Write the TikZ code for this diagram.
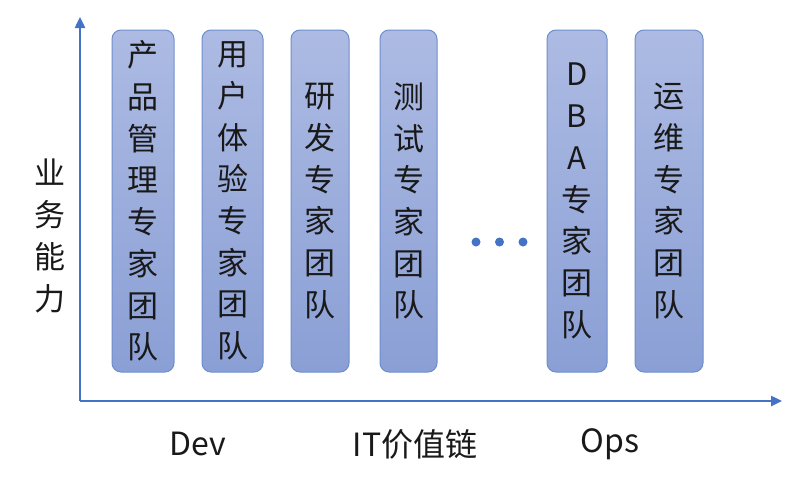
\documentclass[tikz,border=0pt]{standalone}
\usepackage{fontspec}
\setmainfont{Noto Sans CJK SC}
\usetikzlibrary{arrows.meta,shadings}
\definecolor{boxtop}{RGB}{173,187,227}
\definecolor{boxbot}{RGB}{138,159,213}
\definecolor{boxborder}{RGB}{110,142,206}
\definecolor{axisblue}{RGB}{68,114,196}
\definecolor{txt}{RGB}{25,25,25}
\tikzset{
  team/.style={draw=boxborder, line width=1pt, rounded corners=9pt,
    top color=boxtop, bottom color=boxbot, minimum height=342pt,
    inner sep=0pt, align=center, text=txt,
    font=\fontsize{31}{41.7}\selectfont},
  axisline/.style={draw=axisblue, line width=2.4pt,
    -{Triangle[length=11pt,width=10pt]}},
  dotmark/.style={circle, fill=axisblue, inner sep=0pt, minimum size=9pt},
  axislabel/.style={text=txt, inner sep=0pt, font=\fontsize{32}{36}\selectfont}
}
\begin{document}
\begin{tikzpicture}[x=1pt,y=-1pt]
\useasboundingbox (0,0) rectangle (802,479);
% axes
\coordinate (origin) at (80,401);
\coordinate (ytop) at (80,17);
\coordinate (xend) at (782,401);
\draw[axisline] (origin) -- (ytop);
\draw[axisline] (origin) -- (xend);
% boxes
\node[team, minimum width=62pt] (b1) at (143,201) {产\\品\\管\\理\\专\\家\\团\\队};
\node[team, minimum width=61pt] (b2) at (232.5,201) {用\\户\\体\\验\\专\\家\\团\\队};
\node[team, minimum width=58pt] (b3) at (320,201) {研\\发\\专\\家\\团\\队};
\node[team, minimum width=57pt] (b4) at (408.5,201) {测\\试\\专\\家\\团\\队};
\node[team, minimum width=60pt] (b5) at (577,201) {D\\B\\A\\专\\家\\团\\队};
\node[team, minimum width=68pt] (b6) at (669,201) {运\\维\\专\\家\\团\\队};
% dots
\node[dotmark] (d1) at (476,242) {};
\node[dotmark] (d2) at (499.5,242) {};
\node[dotmark] (d3) at (523,242) {};
% labels
\node[axislabel, align=center, font=\fontsize{31}{41.7}\selectfont] (ylab) at (50,236) {业\\务\\能\\力};
\node[axislabel] (dev) at (198,444) {Dev};
\node[axislabel] (itv) at (415,444) {IT价值链};
\node[axislabel] (ops) at (610,444) {Ops};
\end{tikzpicture}
\end{document}
